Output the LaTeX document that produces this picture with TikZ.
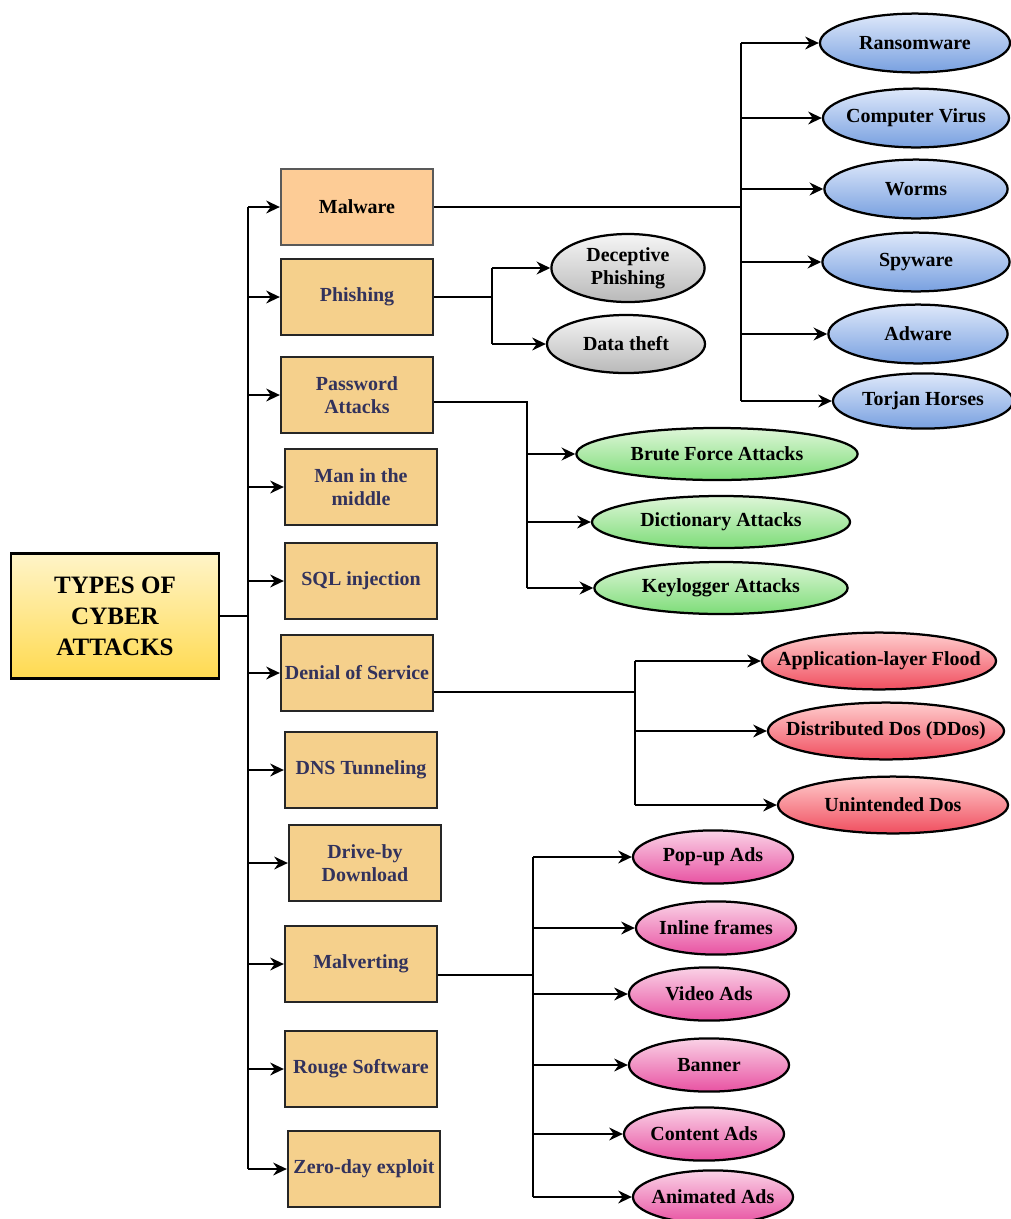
\documentclass[tikz,border=0pt]{standalone}
\usepackage{fontspec}
\setmainfont{Liberation Serif}
\usepackage{xcolor}
\usetikzlibrary{shapes.geometric, arrows.meta}
\definecolor{roottop}{RGB}{255, 244, 200}
\definecolor{rootbot}{RGB}{255, 218, 80}
\definecolor{atkfill}{RGB}{245, 208, 140}
\definecolor{malfill}{RGB}{253, 204, 150}
\definecolor{atktext}{RGB}{50, 50, 92}
\definecolor{bluetop}{RGB}{222, 232, 250}
\definecolor{bluebot}{RGB}{120, 160, 224}
\definecolor{graytop}{RGB}{245, 245, 245}
\definecolor{graybot}{RGB}{185, 185, 185}
\definecolor{greentop}{RGB}{222, 246, 216}
\definecolor{greenbot}{RGB}{125, 220, 120}
\definecolor{redtop}{RGB}{255, 205, 205}
\definecolor{redbot}{RGB}{240, 78, 95}
\definecolor{pinktop}{RGB}{250, 210, 230}
\definecolor{pinkbot}{RGB}{232, 82, 162}
\newcommand{\ov}[1]{\makebox[0pt]{#1}}
\tikzset{
  rootbox/.style={rectangle, draw=black, line width=1.6pt, top color=roottop, bottom color=rootbot,
                  minimum width=5.2cm, minimum height=3.125cm, align=center,
                  font=\bfseries\fontsize{17.8}{22}\selectfont},
  typebox/.style={rectangle, draw=black!85, line width=1.6pt, fill=atkfill, text=atktext,
                  minimum width=3.8cm, minimum height=1.9cm, inner sep=2pt, align=center,
                  font=\bfseries\fontsize{14.2}{16.5}\selectfont},
  oval/.style={ellipse, draw=black, line width=1.6pt, inner sep=0pt, minimum width=#1,
               text=black, font=\bfseries\fontsize{14.2}{16.5}\selectfont},
  oval/.default=4cm,
  blueoval/.style={oval=#1, top color=bluetop, bottom color=bluebot, minimum height=1.47cm},
  grayoval/.style={oval=#1, top color=graytop, bottom color=graybot, minimum height=1.45cm},
  greenoval/.style={oval=#1, top color=greentop, bottom color=greenbot, minimum height=1.3cm},
  redoval/.style={oval=#1, top color=redtop, bottom color=redbot, minimum height=1.42cm},
  pinkoval/.style={oval=#1, top color=pinktop, bottom color=pinkbot, minimum height=1.33cm},
  link/.style={line width=1.6pt, draw=black},
  arrow/.style={link, -{Stealth[length=3.4mm, width=3.2mm, inset=1.1mm]}},
}

\begin{document}
\begin{tikzpicture}[x=0.025cm, y=-0.025cm]
  \useasboundingbox (0,0) rectangle (1011,1219);

  \node[rootbox] (root) at (115,616) {TYPES OF\\CYBER\\ATTACKS};

  % attack types
  \node[typebox, fill=malfill, text=black, draw=black!65] (mal) at (357,207) {Malware};
  \node[typebox] (phi) at (357,297) {Phishing};
  \node[typebox] (pwd) at (357,395) {Password\\Attacks};
  \node[typebox] (mitm) at (361,487) {Man in the\\middle};
  \node[typebox] (sql) at (361,581) {SQL injection};
  \node[typebox] (dos) at (357,673) {Denial of Service};
  \node[typebox] (dns) at (361,770) {DNS Tunneling};
  \node[typebox] (dbd) at (365,863) {Drive-by\\Download};
  \node[typebox] (mvt) at (361,964) {Malverting};
  \node[typebox] (rog) at (361,1069) {Rouge Software};
  \node[typebox] (zda) at (364,1169) {Zero-day exploit};

  % malware kinds
  \node[blueoval=4.75cm] (ran) at (915,43) {\ov{Ransomware}};
  \node[blueoval=4.65cm] (vir) at (916,118) {\ov{Computer Virus}};
  \node[blueoval=4.58cm] (wor) at (916,189) {\ov{Worms}};
  \node[blueoval=4.68cm] (spy) at (916,262) {\ov{Spyware}};
  \node[blueoval=4.48cm] (adw) at (918,334) {\ov{Adware}};
  \node[blueoval=4.5cm, minimum height=1.38cm] (tor) at (923,401) {\ov{Torjan Horses}};

  % phishing kinds
  \node[grayoval=3.83cm, minimum height=1.7cm] (dec) at (628,268)
        {\ov{\begin{tabular}{@{}c@{}}Deceptive\\Phishing\end{tabular}}};
  \node[grayoval=3.95cm] (dat) at (626,344) {\ov{Data theft}};

  % password kinds
  \node[greenoval=7.03cm] (bfa) at (717,454) {\ov{Brute Force Attacks}};
  \node[greenoval=6.45cm] (dic) at (721,522) {\ov{Dictionary Attacks}};
  \node[greenoval=6.33cm] (kla) at (721,588) {\ov{Keylogger Attacks}};

  % dos kinds
  \node[redoval=5.85cm] (alf) at (879,661) {\ov{Application-layer Flood}};
  \node[redoval=5.9cm] (ddos) at (886,731) {\ov{Distributed Dos (DDos)}};
  \node[redoval=5.75cm] (udos) at (893,805) {\ov{Unintended Dos}};

  % malverting kinds
  \node[pinkoval] (pop) at (713,857) {\ov{Pop-up Ads}};
  \node[pinkoval] (ifr) at (716,928) {\ov{Inline frames}};
  \node[pinkoval] (vid) at (709,994) {\ov{Video Ads}};
  \node[pinkoval] (ban) at (709,1065) {\ov{Banner}};
  \node[pinkoval] (con) at (704,1134) {\ov{Content Ads}};
  \node[pinkoval] (ani) at (713,1197) {\ov{Animated Ads}};

  % junctions
  \coordinate (tr) at (248,616);
  \coordinate (malj) at (741,207);
  \coordinate (phij) at (492,297);
  \coordinate (pwdj) at (527,402);
  \coordinate (dosj) at (635,692);
  \coordinate (mvtj) at (533,975);

  \draw[link] (root) -- (tr);
  \draw[link] (tr |- mal) -- (tr |- zda);
  \foreach \t in {mal,phi,pwd,mitm,sql,dos,dns,dbd,mvt,rog,zda}
    \draw[arrow] (tr |- \t) -- (\t);

  \draw[link] (mal) -- (malj);
  \draw[link] (malj |- ran) -- (malj |- tor);
  \foreach \t in {ran,vir,wor,spy,adw,tor}
    \draw[arrow] (malj |- \t) -- (\t);

  \draw[link] (phi) -- (phij);
  \draw[link] (phij |- dec) -- (phij |- dat);
  \foreach \t in {dec,dat}
    \draw[arrow] (phij |- \t) -- (\t);

  \draw[link] (pwd.east |- pwdj) -- (pwdj) -- (pwdj |- kla);
  \foreach \t in {bfa,dic,kla}
    \draw[arrow] (pwdj |- \t) -- (\t);

  \draw[link] (dos.east |- dosj) -- (dosj);
  \draw[link] (dosj |- alf) -- (dosj |- udos);
  \foreach \t in {alf,ddos,udos}
    \draw[arrow] (dosj |- \t) -- (\t);

  \draw[link] (mvt.east |- mvtj) -- (mvtj);
  \draw[link] (mvtj |- pop) -- (mvtj |- ani);
  \foreach \t in {pop,ifr,vid,ban,con,ani}
    \draw[arrow] (mvtj |- \t) -- (\t);
\end{tikzpicture}
\end{document}
